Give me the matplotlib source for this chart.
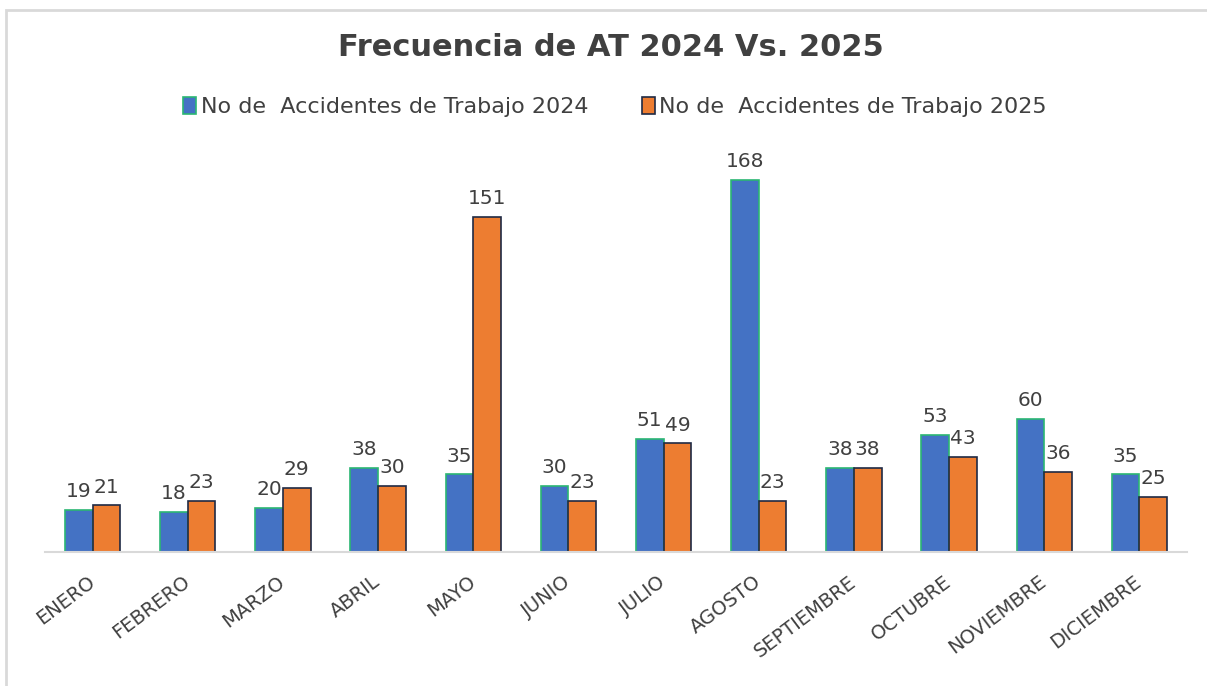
import matplotlib
matplotlib.use("Agg")
import matplotlib.pyplot as plt
import numpy as np
from matplotlib.patches import Rectangle

meses = ["ENERO", "FEBRERO", "MARZO", "ABRIL", "MAYO", "JUNIO", "JULIO",
         "AGOSTO", "SEPTIEMBRE", "OCTUBRE", "NOVIEMBRE", "DICIEMBRE"]
at_2024 = [19, 18, 20, 38, 35, 30, 51, 168, 38, 53, 60, 35]
at_2025 = [21, 23, 29, 30, 151, 23, 49, 23, 38, 43, 36, 25]
serie_2024 = "No de  Accidentes de Trabajo 2024"
serie_2025 = "No de  Accidentes de Trabajo 2025"

W, H = 1207, 686
fig = plt.figure(figsize=(W / 100, H / 100), dpi=100)
fig.patch.set_facecolor("white")

# light frame (top and left visible)
fig.add_artist(Rectangle((6 / W, -0.1), 1.2, (H - 10) / H + 0.1, transform=fig.transFigure,
                         fill=False, edgecolor="#d9d9d9", linewidth=2))

left, right, bottom, top = 45, 1187, 552, 153
ax = fig.add_axes([left / W, 1 - bottom / H, (right - left) / W, (bottom - top) / H])
ax.set_facecolor("none")

x = np.arange(len(meses))
bw = 0.29
b1 = ax.bar(x - bw / 2, at_2024, bw, color="#4472C4", edgecolor="#2BB673", linewidth=1.2,
            label=serie_2024)
b2 = ax.bar(x + bw / 2, at_2025, bw, color="#ED7D31", edgecolor="#1F2A44", linewidth=1.2,
            label=serie_2025)

txt = "#404040"
for bars in (b1, b2):
    for r in bars:
        ax.text(r.get_x() + r.get_width() / 2, r.get_height() + 4, f"{int(r.get_height())}",
                ha="center", va="bottom", fontsize=14.5, color=txt)

ax.set_xlim(-0.5, len(meses) - 0.5)
ax.set_ylim(0, 180)
ax.set_yticks([])
ax.set_xticks(x)
ax.set_xticklabels(meses, rotation=37, ha="right", va="center", rotation_mode="anchor",
                   fontsize=14, color=txt)
ax.tick_params(axis="x", length=0, pad=20)
for s in ("top", "right", "left"):
    ax.spines[s].set_visible(False)
ax.spines["bottom"].set_color("#d9d9d9")
ax.spines["bottom"].set_linewidth(1.5)

fig.text(611 / W, 1 - 48 / H, "Frecuencia de AT 2024 Vs. 2025", ha="center", va="center",
         fontsize=22, color=txt, fontweight="bold")

fig.legend(handles=[b1, b2], loc="center", bbox_to_anchor=(615 / W, 1 - 107 / H), ncol=2,
           frameon=False, fontsize=16, handlelength=0.6, handleheight=0.8,
           handletextpad=0.2, columnspacing=2.4, labelcolor=txt)

fig.savefig("out.png", dpi=100, facecolor="white")
